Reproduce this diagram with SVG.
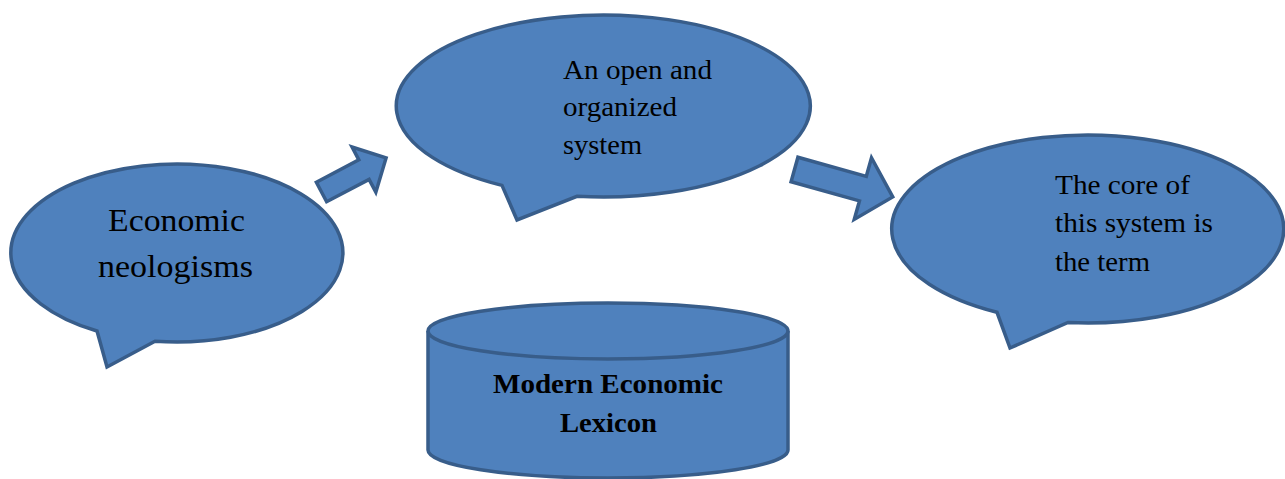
<svg xmlns="http://www.w3.org/2000/svg" width="1285" height="479" viewBox="0 0 1285 479">
<style>
.shape{fill:#4F81BD;stroke:#385D8A;stroke-width:3.5;stroke-linejoin:miter}
.t{font-family:"Liberation Serif","Times New Roman",serif;fill:#000}
.b{font-weight:bold}
</style>
<rect width="1285" height="479" fill="#fff"/>
<g id="connectors">
<polygon class="shape" transform="translate(321.5,192) rotate(-27.8)" points="0,-11 48,-11 48,-25.5 73,0 48,25.5 48,11 0,11"/>
<polygon class="shape" transform="translate(794.5,169.5) rotate(15.6)" points="0,-12.75 71,-12.75 71,-32 102,0 71,32 71,12.75 0,12.75"/>
</g>
<g id="node-economic-neologisms">
<path class="shape" d="M155,341.2 A166,89 0 1 0 97,331 L107,367 Z"/>
<text class="t" font-size="31.5" x="108" y="231" textLength="137" lengthAdjust="spacingAndGlyphs">Economic</text>
<text class="t" font-size="31.5" x="98" y="277" textLength="155" lengthAdjust="spacingAndGlyphs">neologisms</text>
</g>
<g id="node-open-system">
<path class="shape" d="M577,196.3 A207,91 0 1 0 502,185.4 L517,220 Z"/>
<text class="t" font-size="27.5" x="563" y="79" textLength="149" lengthAdjust="spacingAndGlyphs">An open and</text>
<text class="t" font-size="27.5" x="563" y="116" textLength="114" lengthAdjust="spacingAndGlyphs">organized</text>
<text class="t" font-size="27.5" x="563" y="154" textLength="79" lengthAdjust="spacingAndGlyphs">system</text>
</g>
<g id="node-core-term">
<path class="shape" d="M1068,322.5 A196,94 0 1 0 997,312.3 L1010,348 Z"/>
<text class="t" font-size="27.5" x="1055" y="194" textLength="135" lengthAdjust="spacingAndGlyphs">The core of</text>
<text class="t" font-size="27.5" x="1055" y="232" textLength="158" lengthAdjust="spacingAndGlyphs">this system is</text>
<text class="t" font-size="27.5" x="1055" y="271" textLength="95" lengthAdjust="spacingAndGlyphs">the term</text>
</g>
<g id="node-lexicon">
<path class="shape" d="M428,331 L428,450 A180,28 0 0 0 788,450 L788,331 A180,28 0 0 0 428,331 Z"/>
<path class="shape" d="M428,331 A180,28 0 0 0 788,331"/>
<text class="t b" font-size="27.5" x="493" y="393" textLength="230" lengthAdjust="spacingAndGlyphs">Modern Economic</text>
<text class="t b" font-size="27.5" x="560" y="432" textLength="97" lengthAdjust="spacingAndGlyphs">Lexicon</text>
</g>
</svg>
